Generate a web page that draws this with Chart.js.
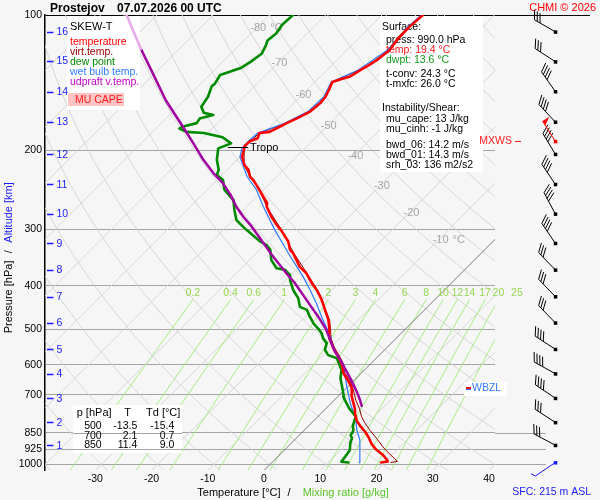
<!DOCTYPE html>
<html>
<head>
<meta charset="utf-8">
<title>Skew-T Prostejov</title>
<script src="https://cdn.jsdelivr.net/npm/chart.js@4.4.1/dist/chart.umd.min.js"></script>
<style>
html,body{margin:0;padding:0;background:#f6f6f6;overflow:hidden}
#box{position:relative;width:600px;height:500px}
canvas{display:block}
</style>
</head>
<body>
<div id="box"><canvas id="chart" width="600" height="500"></canvas></div>
<script>
// ------------------------- DATA -------------------------
// temperature profile [hPa] / [°C]
const tempP = [990,985,975,950,925,900,875,850,825,800,775,750,725,700,675,650,625,600,575,550,525,500,477,453,430,409,395,375,363,339,333,319,301,293,281,267,262,245,233,229,221,216,207,198,196,191,188,183,182,179,174,170,164,157,152,146,141,139,137,133,130,126,120,112,106,100];
const tempT = [19.4,20.4,19.9,18.2,16.1,14.4,13.0,11.4,9.5,7.7,6.3,5.1,3.6,2.1,0.9,-1.1,-3.3,-4.9,-7.1,-9.5,-11.7,-13.5,-15.3,-17.7,-20.1,-22.7,-24.8,-27.6,-29.9,-33.4,-34.6,-36.4,-39.7,-41.4,-43.8,-46.4,-47.0,-50.7,-53.5,-54.7,-56.2,-57.7,-59.6,-60.8,-61.1,-61.0,-60.2,-60.8,-59.2,-58.6,-57.7,-56.8,-55.6,-55.3,-55.5,-56.2,-56.9,-55.9,-54.7,-54.1,-53.5,-52.9,-52.4,-53.0,-53.0,-52.7];
// dew point profile
const dewP = [990,986,952,928,897,874,860,850,838,824,796,783,750,707,700,665,643,616,580,571,556,537,524,511,500,494,485,469,453,446,427,409,389,379,369,366,351,333,325,319,309,301,296,291,286,272,258,245,233,227,221,210,198,193,187,183,182,179,177,174,170,167,165,160,152,144,142,136,131,127,122,117,114,110,105,100];
const dewT = [13.6,12.2,11.9,11.6,10.5,9.9,9.1,9.0,8.7,8.0,7.1,6.8,4.1,1.0,0.7,-1.4,-2.8,-4.1,-7.0,-9.1,-10.6,-11.5,-13.0,-14.1,-15.4,-16.2,-17.4,-19.2,-20.9,-22.7,-24.5,-26.9,-29.2,-30.1,-31.9,-33.7,-36.1,-38.1,-39.6,-41.4,-43.8,-45.8,-47.0,-48.2,-49.4,-51.5,-53.5,-56.9,-58.9,-60.9,-61.5,-63.6,-65.4,-64.0,-66.6,-70.7,-74.0,-75.8,-75.5,-73.7,-74.0,-72.2,-74.3,-75.8,-76.4,-77.6,-77.5,-78.1,-75.6,-75.0,-74.5,-75.2,-75.8,-75.5,-76.0,-75.8];
// wet bulb temperature
const wetP = [990,928,882,838,789,731,700,671,643,616,585,561,538,515,497,469,438,409,382,348,301,267,245,229,207,198,191,183,174,164,152,141,133,120,106,100];
const wetT = [15.5,13.4,11.6,9.3,7.0,3.4,1.6,-0.2,-1.9,-3.7,-6.1,-8.4,-10.5,-12.3,-14.2,-17.1,-20.4,-23.9,-27.5,-32.8,-40.8,-47.0,-51.2,-55.2,-60.0,-61.2,-61.3,-61.1,-58.0,-56.0,-55.8,-57.1,-54.5,-52.8,-53.3,-53.0];
// virtual temperature
const virtP = [990,984,937,913,879,838,810,783,750,719,683,649,627,600,575,550,525,500,477,453,430,409,375,339,301,267,245,229,216,198,191,183,174,164,152,141,130,120,106,100];
const virtT = [21.1,22.1,18.6,16.9,14.6,11.6,9.6,7.8,5.9,3.8,1.6,-0.8,-2.9,-4.6,-6.8,-9.3,-11.5,-13.3,-15.1,-17.6,-20.0,-22.6,-27.5,-33.3,-39.6,-46.4,-50.7,-54.7,-57.7,-60.8,-61.0,-60.8,-57.7,-55.6,-55.5,-56.9,-53.5,-52.4,-53.0,-52.7];
// MU parcel (updraft virtual temperature)
const parcelP = [741,712,689,665,640,611,585,561,533,500,469,442,420,395,376,360,342,325,309,293,281,267,251,237,225,210,193,177,155,135,119,100];
const parcelT = [5.9,4.1,2.5,0.7,-1.3,-3.8,-6.1,-8.5,-11.0,-14.1,-17.7,-21.2,-24.2,-27.8,-31.0,-33.7,-36.9,-39.9,-42.9,-46.1,-48.8,-51.8,-55.0,-58.3,-61.8,-66.0,-70.7,-75.6,-83.2,-90.3,-96.8,-105.4];
const parcelTopP = 119;          // above this level the parcel curve is drawn pale

// axes
const yTicks = [100,200,300,400,500,600,700,850,925,1000];
const xTicks = [-30,-20,-10,0,10,20,30,40];
const altKm = [1,2,3,4,5,6,7,8,9,10,11,12,13,14,15,16];
const altP  = [906,806,712,628,554,484,423,369,322,277,238,204,173,148,126.5,109];
const isoLabelT = [-80,-70,-60,-50,-40,-30,-20,-10];
const isoLabelP = [107,128,151,177,206,240,275,316];
const mixW = [0.2,0.4,0.6,1,2,3,4,6,8,10,12,14,17,20,25];

// winds (surface first)
const windP   = [990,906,806,712,628,554,484,423,369,322,277,238,204,191,173,148,127,109];
const windDir = [236,298,303,304,299,303,316,316,316,326,332,326,329,328,317,325,303,300];
const windKt  = [5,30,30,40,40,40,30,30,30,40,40,40,40,50,40,40,30,30];

// table and text values
const tableP  = [500,700,850];
const tableT  = [-13.5,2.1,11.4];
const tableTd = [-15.4,0.7,9.0];
const sfcPress = 990.0, sfcTemp = 19.4, sfcDwpt = 13.6, tConv = 24.3, tMxfc = 26.0;
const muCape = 13, muCinh = -1, bwd06 = 14.2, bwd01 = 14.3, srh03 = 136, sfcHeight = 215;
const tropoP = 198, tropoT = -60.8;
const mxwsP = 191, wbzlP = 677;

// ------------------------- GEOMETRY -------------------------
const FONT = "'Liberation Sans', Arial, Helvetica, sans-serif";
const BG = '#f6f6f6';
const SKEW = 34.7;           // °C of skew per ln(1000/p)
const P_TOP = 100, P_BOT = 1028.6;
const skewX = (t, p) => t + SKEW * Math.log(1000 / p);
const toPts = (P, T) => P.map((p, i) => ({ x: skewX(T[i], p), y: p }));
function mixTd(w, p) { const e = w * p / (622 + w); const l = Math.log(e / 6.112); return 243.5 * l / (17.67 - l); }
const MIX_TOP = 430, MIX_LABEL_P = 416;

Chart.defaults.font.family = FONT;
Chart.defaults.font.size = 10.5;
Chart.defaults.color = '#000';

const datasets = [];
function line(label, data, color, width, order, extra) {
  return Object.assign({ label, data, borderColor: color, borderWidth: width, order,
    showLine: true, pointRadius: 0, pointHoverRadius: 0, fill: false, tension: 0 }, extra || {});
}
// profiles
datasets.push(line('udpraft v.temp.', toPts(parcelP, parcelT), '#a000a0', 2.5, 0,
  { isProfile: true, segment: { borderColor: c => (c.p0.parsed.y <= parcelTopP + 0.01 ? '#e6a8e6' : '#a000a0') } }));
datasets.push(line('temperature', toPts(tempP, tempT), '#ff0000', 2.6, 1, { isProfile: true }));
datasets.push(line('dew point', toPts(dewP, dewT), '#008a00', 2.6, 2, { isProfile: true }));
datasets.push(line('wet bulb temp.', toPts(wetP, wetT), '#2f7bff', 1.2, 3, { isProfile: true }));
datasets.push(line('virt.temp.', toPts(virtP, virtT), '#960000', 1, 4, { isProfile: true }));

// background reference lines
const levels = [];
for (let p = 1030; p >= 100; p -= 10) levels.push(p);
for (let t = -120; t <= 40; t += 10) {
  datasets.push(line('iso' + t, [{ x: skewX(t, P_BOT), y: P_BOT }, { x: skewX(t, P_TOP), y: P_TOP }],
    t === 0 ? '#7a7a7a' : '#d6d6d6', 1, t === 0 ? 20 : 23));
}
for (let th = -40; th <= 190; th += 10) {
  datasets.push(line('dry' + th, levels.map(p => ({ x: skewX((th + 273.15) * Math.pow(p / 1000, 0.286) - 273.15, p), y: p })),
    '#d6d6d6', 1, 22));
}
mixW.forEach(w => {
  const lv = levels.filter(p => p >= MIX_TOP);
  datasets.push(line('mix' + w, lv.map(p => ({ x: skewX(mixTd(w, p), p), y: p })), '#a8ec80', 1, 21));
});

// ------------------------- DRAW HELPERS -------------------------
function txt(ctx, s, x, y, color, size, align, bold, baseline) {
  ctx.font = (bold ? 'bold ' : '') + size + 'px ' + FONT;
  ctx.fillStyle = color; ctx.textAlign = align || 'left'; ctx.textBaseline = baseline || 'middle';
  ctx.fillText(s, x, y);
}
function hline(ctx, x1, x2, y, color, w) {
  ctx.strokeStyle = color; ctx.lineWidth = w || 1;
  const yy = Math.round(y) + 0.5;
  ctx.beginPath(); ctx.moveTo(x1, yy); ctx.lineTo(x2, yy); ctx.stroke();
}

function drawUnderlay(chart) {
  const ctx = chart.ctx, xs = chart.scales.x, ys = chart.scales.y;
  const PX = (t, p) => xs.getPixelForValue(skewX(t, p));
  const PY = p => ys.getPixelForValue(p);
  ctx.save();
  // isotherm labels
  isoLabelT.forEach((t, i) => {
    const p = isoLabelP[i], x = PX(t, p) + 2, y = PY(p);
    ctx.font = '11px ' + FONT;
    const s = String(t), w = ctx.measureText(s).width;
    txt(ctx, s, x - w / 2, y, '#a6a6a6', 11);
    if (i === 0 || i === isoLabelT.length - 1) txt(ctx, '\u00b0C', x + w / 2 + 4, y, '#a6a6a6', 11);
  });
  // mixing ratio labels
  mixW.forEach(w => {
    txt(ctx, String(w), PX(mixTd(w, MIX_TOP), MIX_TOP), PY(MIX_LABEL_P), '#95d854', 10.5, 'center');
  });
  // white boxes
  ctx.fillStyle = '#ffffff';
  ctx.fillRect(67, 16, 73, 94);      // legend
  ctx.fillRect(380, 16, 103, 156);   // info
  ctx.fillRect(73, 405, 109, 48);    // table
  ctx.fillRect(464, 382, 43, 14);    // WBZL
  // pressure lines visible over table
  [850, 925].forEach(p => hline(ctx, 73, 182, PY(p), '#a4a4a4'));

  // legend
  txt(ctx, 'SKEW-T', 70, 26.7, '#000', 11);
  txt(ctx, 'temperature', 70, 42, '#ff0000', 10.5);
  txt(ctx, 'virt.temp.', 70, 52, '#a00000', 10.5);
  txt(ctx, 'dew point', 70, 62, '#008a00', 10.5);
  txt(ctx, 'wet bulb temp.', 70, 72, '#2f7bff', 10.5);
  txt(ctx, 'udpraft v.temp.', 70, 82, '#c000c0', 10.5);
  ctx.fillStyle = '#ffc4c4'; ctx.fillRect(68, 93, 56, 13);
  txt(ctx, 'MU CAPE', 75, 100, '#ff1a1a', 10.5);

  // info box
  txt(ctx, 'Surface:', 382, 27.3, '#000', 10.5);
  txt(ctx, 'press: ' + sfcPress.toFixed(1) + ' hPa', 386, 40, '#000', 10.5);
  txt(ctx, 'temp: ' + sfcTemp.toFixed(1) + ' \u00b0C', 386, 50, '#ff1a1a', 10.5);
  txt(ctx, 'dwpt: ' + sfcDwpt.toFixed(1) + ' \u00b0C', 386, 60, '#10961a', 10.5);
  txt(ctx, 't-conv: ' + tConv.toFixed(1) + ' \u00b0C', 386, 74, '#000', 10.5);
  txt(ctx, 't-mxfc: ' + tMxfc.toFixed(1) + ' \u00b0C', 386, 84, '#000', 10.5);
  txt(ctx, 'Instability/Shear:', 382, 108.3, '#000', 10.5);
  txt(ctx, 'mu_cape: ' + muCape + ' J/kg', 386, 119.3, '#000', 10.5);
  txt(ctx, 'mu_cinh: ' + muCinh + ' J/kg', 386, 129.3, '#000', 10.5);
  txt(ctx, 'bwd_06: ' + bwd06.toFixed(1) + ' m/s', 386, 145, '#000', 10.5);
  txt(ctx, 'bwd_01: ' + bwd01.toFixed(1) + ' m/s', 386, 155, '#000', 10.5);
  txt(ctx, 'srh_03: ' + srh03 + ' m2/s2', 386, 165, '#000', 10.5);

  // table
  txt(ctx, 'p [hPa]', 76.7, 413.3, '#000', 11);
  txt(ctx, 'T', 127.5, 413.3, '#000', 11, 'center');
  txt(ctx, 'Td [\u00b0C]', 146, 413.3, '#000', 11);
  const rowY = [426, 435.7, 445.3];
  tableP.forEach((p, i) => {
    txt(ctx, String(p), 101.7, rowY[i], '#000', 10.5, 'right');
    txt(ctx, tableT[i].toFixed(1), 137.3, rowY[i], '#000', 10.5, 'right');
    txt(ctx, tableTd[i].toFixed(1), 174.3, rowY[i], '#000', 10.5, 'right');
  });
  ctx.restore();
}

function drawBarb(ctx, x, y, dir, kt, color) {
  const r = dir * Math.PI / 180;
  const ux = Math.sin(r), uy = -Math.cos(r);
  const L = 24;
  const tx = x + ux * L, ty = y + uy * L;
  const px = -uy, py = ux;                         // perpendicular
  const bx = 0.87 * px + 0.5 * ux, by = 0.87 * py + 0.5 * uy;
  ctx.strokeStyle = color; ctx.fillStyle = color; ctx.lineWidth = 1;
  ctx.beginPath(); ctx.moveTo(x, y); ctx.lineTo(tx, ty); ctx.stroke();
  let s = Math.round(kt / 5) * 5, pos = 0;
  const BL = 10, step = 3.2;
  while (s >= 50) {
    const ax = tx - ux * pos, ay = ty - uy * pos;
    const cx = tx - ux * (pos + 5), cy = ty - uy * (pos + 5);
    ctx.beginPath(); ctx.moveTo(ax, ay); ctx.lineTo(ax + px * 8, ay + py * 8); ctx.lineTo(cx, cy); ctx.closePath(); ctx.fill();
    s -= 50; pos += 6;
  }
  while (s >= 10) {
    const ax = tx - ux * pos, ay = ty - uy * pos;
    ctx.beginPath(); ctx.moveTo(ax, ay); ctx.lineTo(ax + bx * BL, ay + by * BL); ctx.stroke();
    s -= 10; pos += step;
  }
  if (s >= 5) {
    const ax = tx - ux * pos, ay = ty - uy * pos;
    ctx.beginPath(); ctx.moveTo(ax, ay); ctx.lineTo(ax + bx * 5, ay + by * 5); ctx.stroke();
  }
  ctx.fillRect(x - 1.5, y - 1.5, 3.5, 3.5);
}

function drawOverlay(chart) {
  const ctx = chart.ctx, xs = chart.scales.x, ys = chart.scales.y, ca = chart.chartArea;
  const PX = (t, p) => xs.getPixelForValue(skewX(t, p));
  const PY = p => ys.getPixelForValue(p);
  ctx.save();
  // extensions of pressure lines
  hline(ctx, ca.right, 590, PY(100), '#000', 1);
  [850, 925, 1000].forEach(p => hline(ctx, ca.right, 546, PY(p), '#a4a4a4', 1));

  // titles
  txt(ctx, 'Prostejov', 50, 12, '#000', 12, 'left', true, 'alphabetic');
  txt(ctx, '07.07.2026 00 UTC', 117, 12, '#000', 12, 'left', true, 'alphabetic');
  txt(ctx, 'CHMI \u00a9 2026', 596, 7.5, '#ff0000', 11, 'right');

  // x axis title
  txt(ctx, 'Temperature [\u00b0C]', 197.3, 493.3, '#000', 11);
  txt(ctx, '/', 289, 493.3, '#000', 11, 'center');
  txt(ctx, 'Mixing ratio [g/kg]', 302.7, 493.3, '#5cc42c', 11);

  // y axis title (rotated)
  ctx.save();
  ctx.translate(8.5, 333.3); ctx.rotate(-Math.PI / 2);
  txt(ctx, 'Pressure [hPa]', 0, 0, '#000', 11);
  txt(ctx, '/', 81.6, 0, '#000', 11, 'center');
  txt(ctx, 'Altitude [km]', 90.6, 0, '#1a1aff', 11);
  ctx.restore();

  // altitude markers
  altKm.forEach((k, i) => {
    const y = PY(altP[i]);
    ctx.strokeStyle = '#1a1aff'; ctx.lineWidth = 1.5;
    ctx.beginPath(); ctx.moveTo(47, Math.round(y) + 0.5); ctx.lineTo(53.5, Math.round(y) + 0.5); ctx.stroke();
    txt(ctx, String(k), 56.5, y + 0.5, '#1a1aff', 10.5);
  });

  // tropopause
  const ty = PY(tropoP), tx = PX(tropoT, tropoP);
  hline(ctx, tx - 16, tx + 4, ty - 1.5, '#000', 1);
  txt(ctx, 'Tropo', tx + 6, ty, '#000', 11);

  // wind barbs
  const bxs = 555.3;
  windP.forEach((p, i) => {
    const col = i === 0 ? '#1a1aff' : (p === mxwsP ? '#ff0000' : '#000');
    drawBarb(ctx, bxs, PY(p), windDir[i], windKt[i], col);
  });
  const my = PY(mxwsP);
  txt(ctx, 'MXWS', 512, my, '#ff2020', 10.5, 'right');
  hline(ctx, 515, 521, my - 0.5, '#ff2020', 1);

  // WBZL
  const wy = PY(wbzlP);
  ctx.fillStyle = '#ff0000'; ctx.fillRect(466, Math.round(wy) - 1, 5, 2);
  ctx.fillStyle = '#2f7bff'; ctx.fillRect(466, Math.round(wy) + 1, 5, 1);
  txt(ctx, 'WBZL', 472, wy, '#2f7bff', 10.5);

  // surface height
  txt(ctx, 'SFC: ' + sfcHeight + ' m ASL', 512.3, 491.7, '#1a1aff', 10.5);
  ctx.restore();
}

const decor = {
  id: 'skewtDecor',
  beforeDraw(chart) {
    const c = chart.ctx;
    c.save(); c.fillStyle = BG; c.fillRect(0, 0, chart.width, chart.height); c.restore();
    chart.$under = false;
  },
  beforeDatasetDraw(chart, args) {
    if (chart.$under) return;
    if (!chart.data.datasets[args.index].isProfile) return;
    chart.$under = true;
    drawUnderlay(chart);
  },
  afterDatasetsDraw(chart) {
    if (!chart.$under) { chart.$under = true; drawUnderlay(chart); }
    drawOverlay(chart);
  }
};

new Chart(document.getElementById('chart'), {
  type: 'scatter',
  data: { datasets },
  plugins: [decor],
  options: {
    responsive: false,
    animation: false,
    events: [],
    layout: { padding: { left: 0, top: 15, right: 105, bottom: 0 } },
    plugins: { legend: { display: false }, tooltip: { enabled: false }, title: { display: false } },
    elements: { line: { borderJoinStyle: 'round', borderCapStyle: 'round' } },
    scales: {
      x: {
        type: 'linear', min: -40, max: 40,
        afterBuildTicks: s => { s.ticks = xTicks.map(v => ({ value: v })); },
        afterFit: s => { s.height = 30; },
        ticks: { autoSkip: false, maxRotation: 0, labelOffset: -6, padding: 3, color: '#000', font: { size: 10.5 }, callback: v => String(v) },
        grid: { display: false, drawTicks: false },
        border: { display: false }
      },
      y: {
        type: 'logarithmic', reverse: true, min: P_TOP, max: P_BOT,
        afterBuildTicks: s => { s.ticks = yTicks.map(v => ({ value: v })); },
        afterFit: s => { s.width = 45; },
        ticks: { autoSkip: false, padding: 3, color: '#000', font: { size: 10.5 }, callback: v => String(v) },
        grid: { color: c => (c.tick && c.tick.value === 100 ? '#000' : '#a4a4a4'), lineWidth: 1, drawTicks: false },
        border: { display: true, color: '#000', width: 1.5 }
      }
    }
  }
});
</script>
</body>
</html>
